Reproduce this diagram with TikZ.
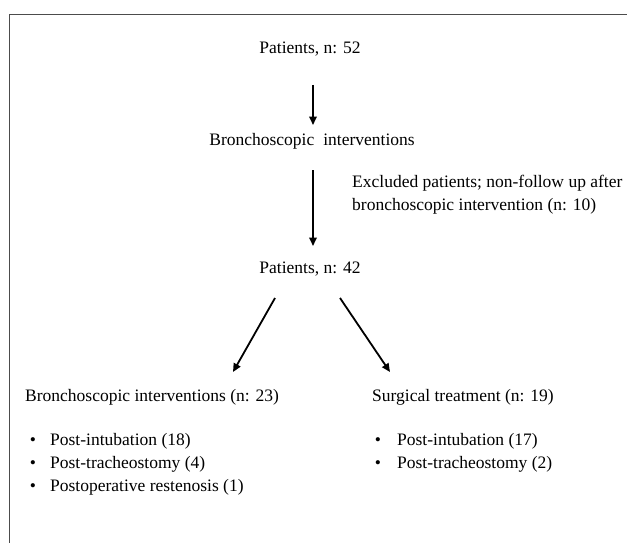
\documentclass[tikz,border=0pt]{standalone}
\usepackage{fontspec}
\setmainfont{Liberation Serif}
\usetikzlibrary{arrows.meta,calc}
\begin{document}
\begin{tikzpicture}[x=1pt,y=-1pt,
  txt/.style={inner sep=0pt, font=\fontsize{17.5}{23}\selectfont},
  arr/.style={line width=1.8pt, -{Triangle[length=8.5pt,width=7.5pt]}},
  frame/.style={line width=0.9pt, draw=black!70}]
\useasboundingbox (0,0) rectangle (627,543);
\draw[frame] (9,543) -- (9,14) -- (627,14);
% top chain
\node[txt,anchor=base] (p52) at (310,54) {Patients, n: 52};
\node[txt,anchor=base] (bi) at (312,145) {Bronchoscopic\hspace{9pt}interventions};
\node[txt,anchor=base west] (ex1) at (352,187) {Excluded patients; non-follow up after};
\node[txt,anchor=base west] (ex2) at (352,210) {bronchoscopic intervention (n: 10)};
\node[txt,anchor=base] (p42) at (310,273) {Patients, n: 42};
% branches
\node[txt,anchor=base west] (bi23) at (25,401) {Bronchoscopic interventions (n: 23)};
\node[txt,anchor=base west] (st19) at (372,401) {Surgical treatment (n: 19)};
% left bullets
\node[txt,anchor=base] (lb1) at (33,445) {•};
\node[txt,anchor=base west] (l1) at (50,445) {Post-intubation (18)};
\node[txt,anchor=base] (lb2) at (33,468) {•};
\node[txt,anchor=base west] (l2) at (50,468) {Post-tracheostomy (4)};
\node[txt,anchor=base] (lb3) at (33,491) {•};
\node[txt,anchor=base west] (l3) at (50,491) {Postoperative restenosis (1)};
% right bullets
\node[txt,anchor=base] (rb1) at (378,445) {•};
\node[txt,anchor=base west] (r1) at (397,445) {Post-intubation (17)};
\node[txt,anchor=base] (rb2) at (378,468) {•};
\node[txt,anchor=base west] (r2) at (397,468) {Post-tracheostomy (2)};
% arrows
\draw[arr] ($(p52.base)+(3,31)$) -- ($(bi.base)+(1,-20)$);
\draw[arr] ($(bi.base)+(1,25)$) -- ($(p42.base)+(3,-27)$);
\draw[arr] ($(p42.base)+(-35,25)$) -- ($(bi23.base west)+(208,-29)$);
\draw[arr] ($(p42.base)+(30,25)$) -- ($(st19.base west)+(18,-29)$);
\end{tikzpicture}
\end{document}
